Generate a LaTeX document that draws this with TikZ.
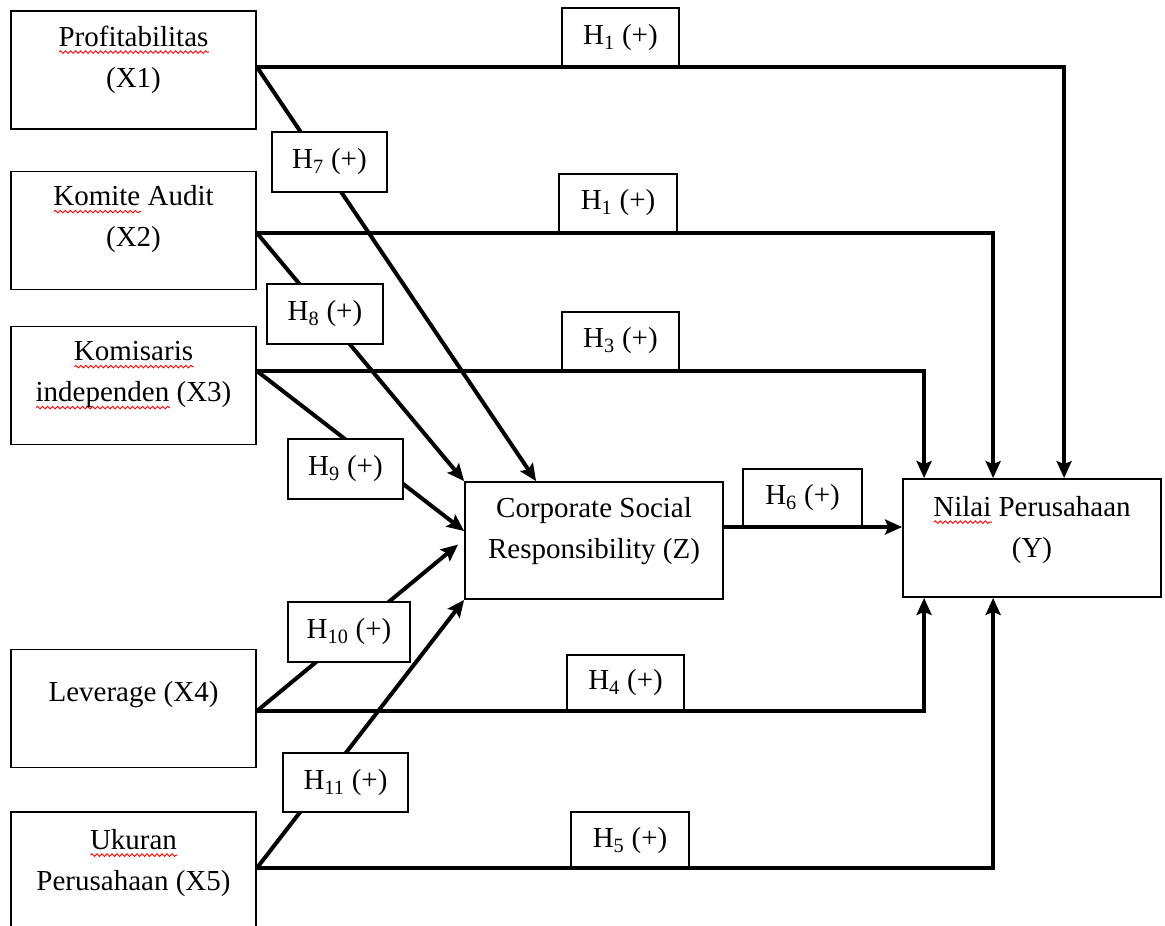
\documentclass[tikz,border=0pt]{standalone}
\usepackage{fontspec}
\setmainfont{Liberation Serif}
\usepackage{xcolor}
\usepackage{tikz}
\usetikzlibrary{arrows.meta, positioning, decorations.pathmorphing}

\newsavebox\spellbox
\newlength\spelllen
\newcommand\spellchk[1]{\sbox\spellbox{#1}\setlength\spelllen{\wd\spellbox}%
  \rlap{\tikz[baseline=0pt, x=1pt, y=1pt]\draw[red, line width=0.9pt, decorate, decoration={snake, amplitude=1.3pt, segment length=5pt}] (0pt,-6pt) -- (\spelllen,-6pt);}#1}
\newcommand\hyp[1]{H\textsubscript{#1} (+)}

\begin{document}
\begin{tikzpicture}[
    x=1pt, y=-1pt,
    var/.style={rectangle, draw, line width=1.8pt, minimum width=245pt, minimum height=118pt, inner sep=0pt},
    vartext/.style={anchor=base, align=center, inner sep=0pt, font=\fontsize{29}{41}\selectfont},
    hyplabel/.style={rectangle, draw, fill=white, line width=1.8pt, minimum width=117pt, minimum height=58pt, inner sep=0pt, font=\fontsize{29}{35}\selectfont},
    arrow/.style={-{Stealth[length=17pt, width=15pt, inset=3pt]}, line width=4pt}
]
\useasboundingbox (0,0) rectangle (1165,926);

% Independent variables
\node[var] (prof) at (133.5,70) {};
\node[var] (komite) at (133.5,230.5) {};
\node[var] (komis) at (133.5,385.5) {};
\node[var] (lev) at (133.5,708.5) {};
\node[var] (ukuran) at (133.5,871) {};

% Intervening and dependent
\node[var, minimum width=258pt, minimum height=117pt] (csr) at (594,540.5) {};
\node[var, minimum width=258pt] (nilai) at (1032,538) {};

% Texts (base = last line)
\node[vartext] (proft) at ([yshift=-77pt]prof.north) {\spellchk{Profitabilitas}\\(X1)};
\node[vartext] (komitet) at ([yshift=-76pt]komite.north) {\spellchk{Komite} Audit\\(X2)};
\node[vartext] (komist) at ([yshift=-76pt]komis.north) {\spellchk{Komisaris}\\\spellchk{independen} (X3)};
\node[vartext] (levt) at ([yshift=-53pt]lev.north) {Leverage (X4)};
\node[vartext] (ukurant) at ([yshift=-79pt]ukuran.north) {\spellchk{Ukuran}\\Perusahaan (X5)};
\node[vartext] (csrt) at ([yshift=-77pt]csr.north) {Corporate Social\\Responsibility (Z)};
\node[vartext] (nilait) at ([yshift=-79pt]nilai.north) {\spellchk{Nilai} Perusahaan\\(Y)};

% Start points
\coordinate (profo) at ([yshift=3pt]prof.east);
\coordinate (komiteo) at ([yshift=-2.5pt]komite.east);
\coordinate (komiso) at ([yshift=14.5pt]komis.east);
\coordinate (levo) at ([yshift=-2.5pt]lev.east);
\coordinate (ukurano) at ([yshift=3pt]ukuran.east);
\coordinate (csro) at ([yshift=13.5pt]csr.east);

% Arrows to CSR
\draw[arrow] (profo) -- ([xshift=72pt]csr.north west);
\draw[arrow] (komiteo) -- (csr.north west);
\draw[arrow] (komiso) -- ([yshift=9.5pt]csr.west);
\draw[arrow] (levo) -- ([xshift=-6pt, yshift=-4pt]csr.west);
\draw[arrow] (ukurano) -- (csr.south west);

% Labels
\node[hyplabel, minimum height=59pt] (h1a) at (620.5,37.5) {\hyp{1}};
\node[hyplabel, minimum width=118pt] (h1b) at (618,203) {\hyp{1}};
\node[hyplabel] (h3) at (620.5,341) {\hyp{3}};
\node[hyplabel, minimum height=56pt] (h4) at (625.5,683) {\hyp{4}};
\node[hyplabel, minimum width=118pt, minimum height=57pt] (h5) at (630,840.5) {\hyp{5}};
\node[hyplabel, minimum width=119pt] (h6) at (802.5,498) {\hyp{6}};
\node[hyplabel, minimum width=115pt, minimum height=60pt] (h7) at (329.5,162) {\hyp{7}};
\node[hyplabel, minimum width=116pt, minimum height=60pt] (h8) at (325,314) {\hyp{8}};
\node[hyplabel, minimum width=115pt, minimum height=60pt] (h9) at (345.5,469) {\hyp{9}};
\node[hyplabel, minimum width=122pt, minimum height=60pt] (h10) at (349,632) {\hyp{10}};
\node[hyplabel, minimum width=125pt, minimum height=59pt] (h11) at (345.5,782.5) {\hyp{11}};

% Arrows to Nilai Perusahaan
\draw[arrow] (profo) -| ([xshift=162pt]nilai.north west);
\draw[arrow] (komiteo) -| ([xshift=91pt]nilai.north west);
\draw[arrow] (komiso) -| ([xshift=22pt]nilai.north west);
\draw[arrow] (levo) -| ([xshift=22pt]nilai.south west);
\draw[arrow] (ukurano) -| ([xshift=91pt]nilai.south west);
\draw[arrow] (csro) -- (csro -| nilai.west);

\end{tikzpicture}
\end{document}
